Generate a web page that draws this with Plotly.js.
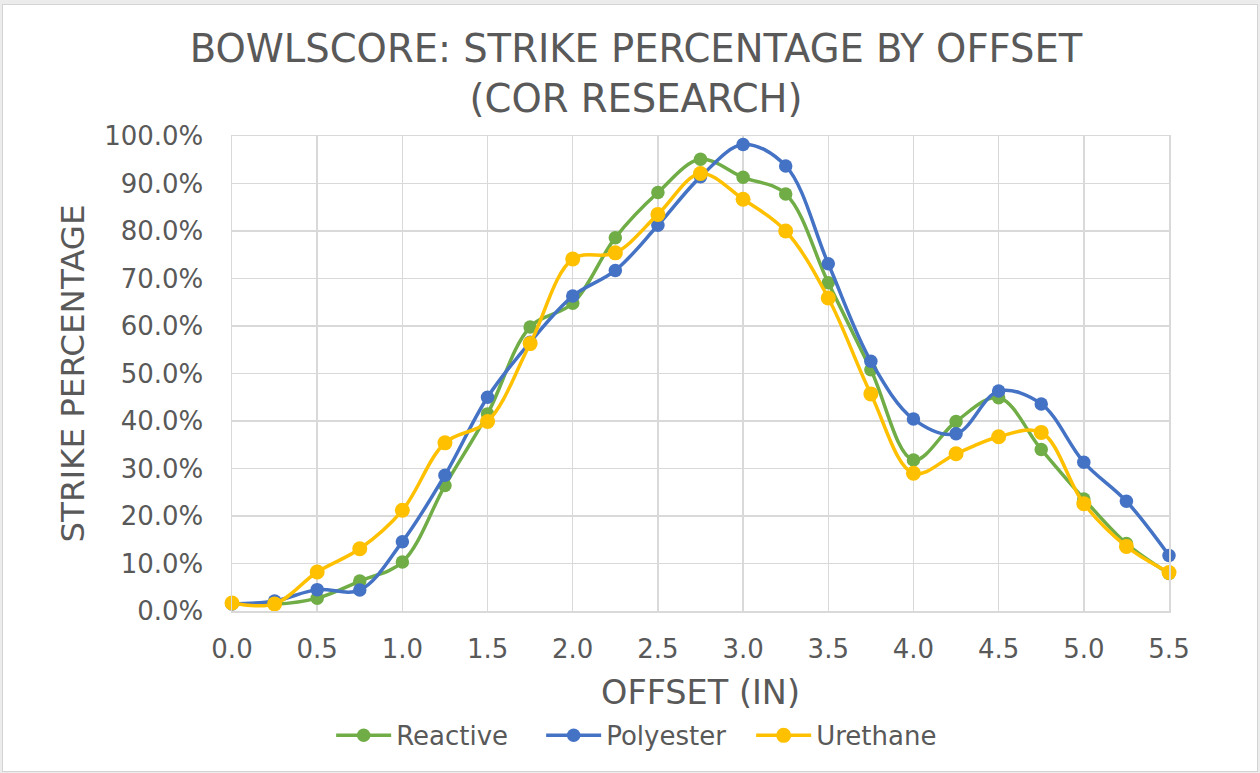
<!DOCTYPE html>
<html>
<head>
<meta charset="utf-8">
<script src="https://cdn.plot.ly/plotly-3.0.1.min.js"></script>
<style>
  html, body { margin: 0; padding: 0; background: #ececec; width: 1260px; height: 773px; overflow: hidden; }
  #frame { position: absolute; left: 2px; top: 4px; width: 1254px; height: 766px; background: #ffffff; border: 1px solid #d4d4d4; }
  #chart { position: absolute; left: 0; top: 0; width: 1254px; height: 766px; }
</style>
</head>
<body>
<div id="frame"><div id="chart"></div></div>
<script>
// Offset (in)
const offsets = [0.0, 0.25, 0.5, 0.75, 1.0, 1.25, 1.5, 1.75, 2.0, 2.25, 2.5, 2.75,
                 3.0, 3.25, 3.5, 3.75, 4.0, 4.25, 4.5, 4.75, 5.0, 5.25, 5.5];

// Strike percentage (fraction)
const reactive  = [0.016, 0.014, 0.027, 0.063, 0.103, 0.264, 0.415, 0.598, 0.648, 0.786, 0.881, 0.951,
                   0.913, 0.878, 0.691, 0.508, 0.318, 0.399, 0.449, 0.340, 0.236, 0.142, 0.079];
const polyester = [0.015, 0.021, 0.045, 0.044, 0.146, 0.286, 0.450, 0.566, 0.663, 0.717, 0.812, 0.914,
                   0.982, 0.937, 0.731, 0.526, 0.404, 0.373, 0.463, 0.436, 0.313, 0.231, 0.117];
const urethane  = [0.017, 0.015, 0.082, 0.131, 0.212, 0.354, 0.399, 0.563, 0.741, 0.754, 0.835, 0.921,
                   0.867, 0.800, 0.659, 0.457, 0.290, 0.331, 0.367, 0.376, 0.226, 0.136, 0.081];

const seriesNames = ["Reactive", "Polyester", "Urethane"];
const seriesColors = ["#70AD47", "#4472C4", "#FFC000"];
const seriesValues = [reactive, polyester, urethane];

const textColor = "#595959";
const gridColor = "#D9D9D9";
const fontFamily = "DejaVu Sans, Verdana, sans-serif";

const traces = seriesValues.map((vals, i) => ({
  type: "scatter",
  mode: "lines+markers",
  name: seriesNames[i],
  x: offsets,
  y: vals,
  line: { color: seriesColors[i], width: 3.5, shape: "spline", smoothing: 1 },
  marker: { color: seriesColors[i], size: i === 2 ? 15 : 13.5 },
  cliponaxis: false
}));

const layout = {
  width: 1254,
  height: 766,
  paper_bgcolor: "#ffffff",
  plot_bgcolor: "#ffffff",
  margin: { l: 229, r: 88, t: 131, b: 160 },
  font: { family: fontFamily, color: textColor, size: 26 },
  title: {
    text: "BOWLSCORE: STRIKE PERCENTAGE BY OFFSET<br>(COR RESEARCH)",
    font: { family: fontFamily, size: 38.5, color: textColor },
    x: 0.5048, xref: "container", xanchor: "center",
    y: 0.926, yref: "container", yanchor: "top"
  },
  xaxis: {
    range: [0, 5.5],
    dtick: 0.5,
    tick0: 0,
    tickformat: ".1f",
    showgrid: true,
    gridcolor: gridColor,
    gridwidth: 1.5,
    zeroline: false,
    showline: true,
    linecolor: gridColor,
    linewidth: 1.5,
    mirror: true,
    ticks: "",
    ticklabelstandoff: 14,
    tickfont: { family: fontFamily, size: 26, color: textColor },
    title: { text: "OFFSET (IN)", font: { family: fontFamily, size: 33.5, color: textColor }, standoff: 18 }
  },
  yaxis: {
    range: [0, 1],
    dtick: 0.1,
    tick0: 0,
    tickformat: ".1%",
    showgrid: true,
    gridcolor: gridColor,
    gridwidth: 1.5,
    zeroline: false,
    showline: true,
    linecolor: gridColor,
    linewidth: 1.5,
    mirror: true,
    ticks: "",
    ticklabelstandoff: 22,
    tickfont: { family: fontFamily, size: 26, color: textColor },
    title: { text: "STRIKE PERCENTAGE", font: { family: fontFamily, size: 32.5, color: textColor }, standoff: 10 }
  },
  legend: {
    orientation: "h",
    x: 0.442, xanchor: "center",
    y: -0.262, yanchor: "middle",
    font: { family: fontFamily, size: 26, color: textColor },
    itemwidth: 55,
    entrywidth: 140,
    bgcolor: "rgba(0,0,0,0)"
  },
  showlegend: true
};

Plotly.newPlot("chart", traces, layout, { displayModeBar: false, staticPlot: true });
</script>
</body>
</html>
